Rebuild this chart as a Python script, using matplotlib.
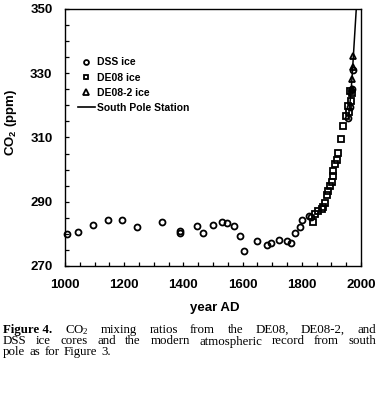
import matplotlib
matplotlib.use("Agg")
import matplotlib.pyplot as plt
from matplotlib.lines import Line2D

# ---- data ----
dss_year = [1006, 1045, 1096, 1144, 1194, 1244, 1327, 1389, 1389, 1445, 1467, 1500,
            1529, 1548, 1571, 1591, 1605, 1650, 1681, 1695, 1723, 1749, 1764, 1777,
            1794, 1800, 1826, 1830, 1955, 1962, 1969, 1973]
dss_co2 = [279.9, 280.6, 282.9, 284.3, 284.3, 282.2, 283.8, 281.0, 280.2, 282.3, 280.2, 282.9,
           283.8, 283.3, 282.5, 279.2, 274.8, 277.8, 276.6, 277.1, 278.1, 277.8, 277.3, 280.2,
           282.1, 284.2, 285.6, 285.1, 316.0, 319.5, 325.0, 331.0]

de08_year = [1839, 1845, 1856, 1867, 1873, 1878, 1884, 1889, 1895, 1901, 1904, 1906,
             1912, 1918, 1923, 1931, 1940, 1949, 1957, 1960, 1963, 1965, 1968]
de08_co2 = [283.8, 286.2, 287.0, 287.7, 288.5, 289.6, 292.2, 293.2, 294.8, 296.3, 297.9, 299.5,
            301.6, 303.1, 305.2, 309.4, 313.5, 316.7, 319.8, 318.0, 324.5, 321.5, 324.0]

de082_year = [1968, 1970, 1972, 1974]
de082_co2 = [325.0, 328.1, 331.8, 335.4]

sp_year = [1957, 1962, 1966, 1970, 1974, 1978, 1982, 1986, 1990]
sp_co2 = [316.0, 320.0, 324.0, 329.0, 335.0, 341.0, 347.0, 353.0, 359.0]

xticks = [1000, 1200, 1400, 1600, 1800, 2000]
yticks = [270, 290, 310, 330, 350]

plt.rcParams['font.family'] = ['Liberation Sans', 'DejaVu Sans']
plt.rcParams['mathtext.default'] = 'regular'

fig = plt.figure(figsize=(3.78, 3.96), dpi=100)
ax = fig.add_axes([65/378, 1-266/396, (361-65)/378, (266-9)/396])

mk = dict(linestyle='none', markerfacecolor='none', markeredgecolor='black',
          markeredgewidth=1.3)
ax.plot(sp_year, sp_co2, color='black', lw=1.1, zorder=3)
ax.plot(dss_year, dss_co2, marker='o', markersize=4.3, clip_on=False, **mk)
ax.plot(de08_year, de08_co2, marker='s', markersize=4.3, clip_on=False, **mk)
ax.plot(de082_year, de082_co2, marker='^', markersize=4.5, clip_on=False, **mk)

ax.set_xlim(1000, 2000)
ax.set_ylim(270, 350)
ax.set_xticks(xticks)
ax.set_yticks(yticks)
ax.set_xticks(range(1000, 2001, 50), minor=True)
ax.set_yticks(range(270, 351, 5), minor=True)
ax.tick_params(which='both', direction='in', length=3, width=0.9)
ax.tick_params(axis='both', which='major', labelsize=9.5, pad=9)
for lab in ax.get_xticklabels() + ax.get_yticklabels():
    lab.set_fontweight('bold')
for s in ax.spines.values():
    s.set_linewidth(1.0)

fig.text(11/378, 1-122/396, 'CO$_2$ (ppm)', rotation=90, ha='center', va='center',
         fontsize=9.5, fontweight='bold')
fig.text(215/378, 1-308/396, 'year AD', ha='center', va='center',
         fontsize=9.5, fontweight='bold')

handles = [
    Line2D([], [], marker='o', markersize=3.5, **mk),
    Line2D([], [], marker='s', markersize=3.5, **mk),
    Line2D([], [], marker='^', markersize=3.8, **mk),
    Line2D([], [], color='black', lw=1.2),
]
labels = ['DSS ice', 'DE08 ice', 'DE08-2 ice', 'South Pole Station']
leg = ax.legend(handles, labels, loc='upper left', bbox_to_anchor=(0.03, 0.828),
                frameon=False, fontsize=7.5, handlelength=1.6, handletextpad=0.25,
                labelspacing=0.5, borderaxespad=0)
for t in leg.get_texts():
    t.set_fontweight('bold')

# ---- caption, justified word by word ----
serif = ['Liberation Serif', 'DejaVu Serif']
cap_fs = 9.3
lines = [
    [('Figure 4.', 'bold'), ('CO$_2$', 'normal'), ('mixing', 'normal'), ('ratios', 'normal'),
     ('from', 'normal'), ('the', 'normal'), ('DE08,', 'normal'), ('DE08-2,', 'normal'), ('and', 'normal')],
    [(w, 'normal') for w in 'DSS ice cores and the modern atmospheric record from south'.split()],
    [(w, 'normal') for w in 'pole as for Figure 3.'.split()],
]
line_y = [333, 344.5, 355]
x_left, x_right = 3, 376
renderer = fig.canvas.get_renderer()

def measure(txt, wt):
    t = fig.text(0, 0, txt, fontsize=cap_fs, fontweight=wt, family=serif)
    w = t.get_window_extent(renderer).width
    t.remove()
    return w

space_w = measure('a b', 'normal') - measure('ab', 'normal')

for li, (words, yy) in enumerate(zip(lines, line_y)):
    widths = [measure(txt, wt) for txt, wt in words]
    if li < len(lines) - 1:
        gap = (x_right - x_left - sum(widths)) / (len(words) - 1)
    else:
        gap = space_w * 1.3
    x = x_left
    for (txt, wt), wd in zip(words, widths):
        fig.text(x / 378, 1 - yy / 396, txt, fontsize=cap_fs, fontweight=wt,
                 family=serif, ha='left', va='baseline')
        x += wd + gap

fig.savefig('out.png', dpi=100)
